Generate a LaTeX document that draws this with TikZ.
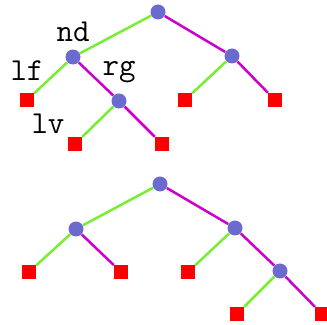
\documentclass[tikz,border=0pt]{standalone}
\definecolor{Inner}{HTML}{6A6ACF}
\definecolor{LeftEdge}{HTML}{77EE33}
\definecolor{RightEdge}{HTML}{CC00CC}
\definecolor{Leaf}{HTML}{FF0000}

\begin{document}
\begin{tikzpicture}[x=.5pt,y=-.5pt,
  inner/.style={circle,fill=Inner,inner sep=0pt,minimum size=7.5pt},
  leaf/.style={rectangle,fill=Leaf,inner sep=0pt,minimum size=6.8pt},
  ledge/.style={line width=1.25pt,draw=LeftEdge},
  redge/.style={line width=1.25pt,draw=RightEdge},
  tag/.style={inner sep=0pt,font=\fontsize{16}{19}\selectfont\ttfamily}]
  \useasboundingbox (0,0) rectangle (327,325);
  % upper tree
  \node[inner] (a) at (158,12) {};
  \node[inner] (nd) at (73,57) {};
  \node[leaf] (lf) at (27,100) {};
  \node[inner] (rg) at (119,101) {};
  \node[leaf] (lv) at (75,144) {};
  \node[leaf] (rr) at (162,144) {};
  \node[inner] (b) at (232,56) {};
  \node[leaf] (bl) at (185,100) {};
  \node[leaf] (br) at (275,100) {};
  \node[tag] (ndtag) at (73,32) {nd};
  \node[tag] (lftag) at (27,71) {lf};
  \node[tag] (rgtag) at (119,72) {rg};
  \node[tag] (lvtag) at (48,124) {lv};
  \draw[ledge] (a) -- (nd);
  \draw[redge] (a) -- (b);
  \draw[ledge] (nd) -- (lf);
  \draw[redge] (nd) -- (rg);
  \draw[ledge] (rg) -- (lv);
  \draw[redge] (rg) -- (rr);
  \draw[ledge] (b) -- (bl);
  \draw[redge] (b) -- (br);
  % lower tree
  \node[inner] (c) at (160,184) {};
  \node[inner] (cl) at (76,229) {};
  \node[leaf] (cll) at (29,272) {};
  \node[leaf] (clr) at (121,272) {};
  \node[inner] (cr) at (235,228) {};
  \node[leaf] (crl) at (188,272) {};
  \node[inner] (crr) at (280,271) {};
  \node[leaf] (crrl) at (237,314) {};
  \node[leaf] (crrr) at (322,314) {};
  \draw[ledge] (c) -- (cl);
  \draw[redge] (c) -- (cr);
  \draw[ledge] (cl) -- (cll);
  \draw[redge] (cl) -- (clr);
  \draw[ledge] (cr) -- (crl);
  \draw[redge] (cr) -- (crr);
  \draw[ledge] (crr) -- (crrl);
  \draw[redge] (crr) -- (crrr);
\end{tikzpicture}
\end{document}
